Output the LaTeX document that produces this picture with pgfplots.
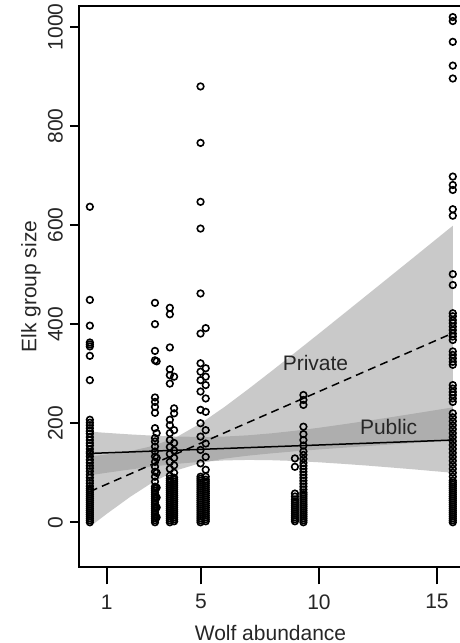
\documentclass[border=0pt]{standalone}
\usepackage{fontspec}
\setmainfont{Liberation Sans}
\usepackage{pgfplots}
\pgfplotsset{compat=1.18}
\definecolor{bandc}{gray}{0.58}
\definecolor{txt}{gray}{0.15}
\begin{document}
\begin{tikzpicture}
\begin{axis}[
  at={(0pt,0pt)}, anchor=south west,
  scale only axis, width=191.5pt, height=280.65pt,
  xmin=-0.17, xmax=16.06, ymin=-90.9, ymax=1042.4,
  clip=false,
  axis line style={line width=0.9pt},
  tick align=outside, tick pos=left,
  xtick={1,5,10,15}, ytick={0,200,400,600,800,1000},
  tick style={black, line width=0.9pt},
  xtick style={/pgfplots/major tick length=8.5pt},
  ytick style={/pgfplots/major tick length=4.5pt},
  /pgf/number format/assume math mode=true,
  /pgf/number format/1000 sep={},
  tick label style={font=\fontsize{10.5}{12.6}\selectfont, text=txt},
  xticklabel style={anchor=center, yshift=-13pt},
  yticklabel style={xshift=-7.5pt, rotate=90, anchor=center},
  label style={font=\fontsize{10.5}{12.6}\selectfont, text=txt},
  xlabel={Wolf abundance},
  xlabel style={at={(axis description cs:0.5,0)}, anchor=center, yshift=-33pt},
  ylabel={Elk group size},
  ylabel style={at={([xshift=-24pt]axis description cs:0,0.5)}, anchor=center},
]
% ---- data points ----
\addplot[only marks, mark=o, mark size=1.65pt, black, mark options={line width=0.8pt}] coordinates {
(0.29,637) (0.29,449) (0.29,397) (0.29,363) (0.29,359) (0.29,355) (0.29,336) (0.29,287)
(0.29,207) (0.29,201) (0.29,196) (0.29,190) (0.29,184) (0.29,179) (0.29,172) (0.29,166)
(0.29,160) (0.29,155) (0.29,148) (0.29,142) (0.29,139) (0.29,133) (0.29,126) (0.29,120)
(0.29,114) (0.29,109) (0.29,103) (0.29,96) (0.29,90) (0.29,84) (0.29,79) (0.29,73)
(0.29,68) (0.29,64) (0.29,60) (0.29,56) (0.29,52) (0.29,48) (0.29,44) (0.29,40)
(0.29,36) (0.29,32) (0.29,28) (0.29,24) (0.29,20) (0.29,16) (0.29,12) (0.29,8) (0.29,4) (0.29,0)
(3.05,443) (3.05,400) (3.05,346) (3.05,327) (3.05,252) (3.05,243) (3.05,233) (3.05,221)
(3.05,190) (3.05,170) (3.05,163) (3.05,153) (3.05,143) (3.05,133) (3.05,122) (3.05,112)
(3.05,102) (3.05,92) (3.05,82) (3.05,72) (3.05,68) (3.05,64) (3.05,60) (3.05,56)
(3.05,52) (3.05,48) (3.05,44) (3.05,40) (3.05,36) (3.05,32) (3.05,28) (3.05,24)
(3.05,20) (3.05,16) (3.05,12) (3.05,8) (3.05,4) (3.05,0)
(3.12,325) (3.12,180) (3.12,130) (3.12,100) (3.12,70) (3.12,50) (3.12,30) (3.12,10)
(3.68,433) (3.68,420) (3.68,353) (3.68,309) (3.68,297) (3.68,280) (3.68,207) (3.68,196)
(3.68,180) (3.68,166) (3.68,152) (3.68,138) (3.68,122) (3.68,108) (3.68,94)
(3.68,88) (3.68,84) (3.68,80) (3.68,76) (3.68,72) (3.68,68) (3.68,64) (3.68,60)
(3.68,56) (3.68,52) (3.68,48) (3.68,44) (3.68,40) (3.68,36) (3.68,32) (3.68,28)
(3.68,24) (3.68,20) (3.68,16) (3.68,12) (3.68,8) (3.68,4) (3.68,0)
(3.86,294) (3.86,230) (3.86,220) (3.86,186) (3.86,160) (3.86,145) (3.86,130) (3.86,115)
(3.86,100) (3.86,90) (3.86,86) (3.86,82) (3.86,78) (3.86,74) (3.86,70) (3.86,66)
(3.86,62) (3.86,58) (3.86,54) (3.86,50) (3.86,46) (3.86,42) (3.86,38) (3.86,34)
(3.86,30) (3.86,26) (3.86,22) (3.86,18) (3.86,14) (3.86,10) (3.86,6) (3.86,2)
(4.98,880) (4.98,766) (4.98,647) (4.98,593) (4.98,462) (4.98,381) (4.98,321) (4.98,304)
(4.98,287) (4.98,264) (4.98,227) (4.98,200) (4.98,173) (4.98,146) (4.98,119) (4.98,92)
(4.98,88) (4.98,84) (4.98,80) (4.98,76) (4.98,72) (4.98,68) (4.98,64) (4.98,60)
(4.98,56) (4.98,52) (4.98,48) (4.98,44) (4.98,40) (4.98,36) (4.98,32) (4.98,28)
(4.98,24) (4.98,20) (4.98,16) (4.98,12) (4.98,8) (4.98,4) (4.98,0)
(5.2,392) (5.2,311) (5.2,294) (5.2,277) (5.2,250) (5.2,223) (5.2,186) (5.2,159)
(5.2,132) (5.2,106) (5.2,92) (5.2,86) (5.2,82) (5.2,78) (5.2,74) (5.2,70)
(5.2,66) (5.2,62) (5.2,58) (5.2,54) (5.2,50) (5.2,46) (5.2,42) (5.2,38)
(5.2,34) (5.2,30) (5.2,26) (5.2,22) (5.2,18) (5.2,14) (5.2,10) (5.2,6) (5.2,2)
(8.98,129) (8.98,112) (8.98,58) (8.98,52) (8.98,46) (8.98,42) (8.98,38) (8.98,34)
(8.98,30) (8.98,26) (8.98,22) (8.98,18) (8.98,14) (8.98,10) (8.98,6) (8.98,2)
(9.34,257) (9.34,247) (9.34,237) (9.34,193) (9.34,178) (9.34,166) (9.34,155) (9.34,143)
(9.34,136) (9.34,128) (9.34,120) (9.34,114) (9.34,108) (9.34,102) (9.34,96) (9.34,90)
(9.34,84) (9.34,78) (9.34,72) (9.34,66) (9.34,60) (9.34,56) (9.34,52) (9.34,48)
(9.34,44) (9.34,40) (9.34,36) (9.34,32) (9.34,28) (9.34,24) (9.34,20) (9.34,16)
(9.34,12) (9.34,8) (9.34,4) (9.34,0)
(15.67,1020) (15.67,1012) (15.67,970) (15.67,922) (15.67,896) (15.67,698) (15.67,681) (15.67,671)
(15.67,632) (15.67,619) (15.67,501) (15.67,479) (15.67,422) (15.67,416) (15.67,408) (15.67,402)
(15.67,395) (15.67,388) (15.67,381) (15.67,375) (15.67,368) (15.67,345) (15.67,338) (15.67,331)
(15.67,324) (15.67,318) (15.67,277) (15.67,270) (15.67,263) (15.67,257) (15.67,250) (15.67,243)
(15.67,220) (15.67,212) (15.67,204) (15.67,196) (15.67,188) (15.67,180) (15.67,172) (15.67,164)
(15.67,156) (15.67,148) (15.67,140) (15.67,132) (15.67,124) (15.67,116) (15.67,108) (15.67,100)
(15.67,92) (15.67,84) (15.67,80) (15.67,76) (15.67,72) (15.67,68) (15.67,64) (15.67,60)
(15.67,56) (15.67,52) (15.67,48) (15.67,44) (15.67,40) (15.67,36) (15.67,32) (15.67,28)
(15.67,24) (15.67,20) (15.67,16) (15.67,12) (15.67,8) (15.67,4) (15.67,0)
};
% ---- Private confidence band ----
\addplot[fill=bandc, fill opacity=0.5, draw=none] coordinates {
(0.29,133.0) (1,136.8) (2,143.8) (3,154.6) (4,172.9) (5,200.1) (6,233.0) (7,268.7)
(8,305.6) (9,343.1) (10,381.0) (11,419.2) (12,457.5) (13,495.9) (14,534.3) (15,572.9) (15.67,598.7)
(15.67,165.1) (15,163.1) (14,160.1) (13,156.9) (12,153.7) (11,150.4) (10,147.0) (9,143.3)
(8,139.2) (7,134.5) (6,128.6) (5,119.9) (4,105.5) (3,82.2) (2,51.4) (1,16.8) (0.29,-9.0)
} -- cycle;
% ---- Public confidence band ----
\addplot[fill=bandc, fill opacity=0.5, draw=none] coordinates {
(0.29,183.0) (1,180.5) (2,177.4) (3,174.8) (4,173.0) (5,172.4) (6,173.1) (7,175.7)
(8,179.7) (9,184.9) (10,190.9) (11,197.6) (12,204.6) (13,211.8) (14,219.3) (15,226.9) (15.67,232.0)
(15.67,100.0) (15,102.7) (14,106.9) (13,110.8) (12,114.6) (11,118.0) (10,121.1) (9,123.7)
(8,125.3) (7,125.9) (6,124.9) (5,122.2) (4,118.0) (3,112.8) (2,106.6) (1,99.9) (0.29,95.0)
} -- cycle;
% ---- fitted lines ----
\addplot[black, line width=0.75pt, dash pattern=on 4pt off 2.6pt] coordinates {(0.29,62) (15.67,381.9)};
\addplot[black, line width=0.75pt] coordinates {(0.29,139) (15.67,166)};
% ---- longer x-axis ticks (as in the original) ----
\addplot[only marks, mark=|, mark size=4.25pt, black, mark options={yshift=-4.25pt, line width=0.9pt}] coordinates {(1,-90.9) (5,-90.9) (10,-90.9) (15,-90.9)};
\node[text=txt, font=\fontsize{10.5}{12.6}\selectfont] at (axis cs:9.85,321.6) {Private};
\node[text=txt, font=\fontsize{10.5}{12.6}\selectfont] at (axis cs:12.95,191.4) {Public};
\end{axis}
\pgfresetboundingbox
\path[use as bounding box] (-39.5pt,-37.85pt) rectangle (190.5pt,283.65pt);
\end{tikzpicture}
\end{document}
